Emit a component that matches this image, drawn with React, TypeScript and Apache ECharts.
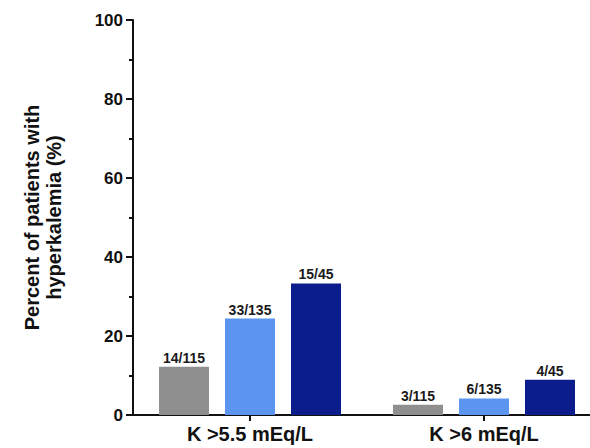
import React, { useEffect, useRef } from "react";
import * as echarts from "echarts";

const categories = ["K >5.5 mEq/L", "K >6 mEq/L"];
const greyValues = [12.2, 2.6];
const lightBlueValues = [24.4, 4.2];
const darkBlueValues = [33.3, 8.9];
const greyLabels = ["14/115", "3/115"];
const lightBlueLabels = ["33/135", "6/135"];
const darkBlueLabels = ["15/45", "4/45"];
const yTitle = "Percent of patients with\nhyperkalemia (%)";

const FONT = "Liberation Sans, Arial, Helvetica, sans-serif";

export default function App() {
  const ref = useRef<HTMLDivElement>(null);
  useEffect(() => {
    document.body.style.margin = "0";
    const chart = echarts.init(ref.current!, null, { renderer: "svg" });
    const mkSeries = (name: string, values: number[], labels: string[], color: string) => ({
      name,
      type: "bar",
      data: values,
      barWidth: 50,
      barGap: "32%",
      itemStyle: { color },
      label: {
        show: true,
        position: "top",
        distance: 2,
        formatter: (p: any) => labels[p.dataIndex],
        fontFamily: FONT,
        fontWeight: "bold",
        fontSize: 14,
        color: "#1a1a1a",
      },
    });
    chart.setOption({
      animation: false,
      backgroundColor: "#ffffff",
      grid: {
        left: 133,
        top: 20,
        width: 468,
        bottom: 33,
        containLabel: false,
        outerBoundsMode: "none",
      },
      xAxis: {
        type: "category",
        data: categories,
        axisLine: { lineStyle: { color: "#111", width: 2 } },
        axisTick: { show: true, alignWithLabel: true, length: 6, lineStyle: { color: "#111", width: 2 } },
        axisLabel: {
          fontFamily: FONT,
          fontWeight: "bold",
          fontSize: 20,
          color: "#111",
          margin: 9,
        },
      },
      yAxis: {
        type: "value",
        min: 0,
        max: 100,
        interval: 20,
        name: yTitle,
        nameLocation: "middle",
        nameRotate: 90,
        nameGap: 68,
        nameTextStyle: {
          fontFamily: FONT,
          fontWeight: "bold",
          fontSize: 20,
          lineHeight: 22,
          color: "#111",
          align: "center",
        },
        axisLine: { show: true, lineStyle: { color: "#111", width: 2 } },
        axisTick: { show: true, length: 7, lineStyle: { color: "#111", width: 2 } },
        minorTick: { show: true, splitNumber: 2, length: 4, lineStyle: { color: "#111", width: 2 } },
        splitLine: { show: false },
        axisLabel: {
          fontFamily: FONT,
          fontWeight: "bold",
          fontSize: 17,
          color: "#111",
          margin: 10,
        },
      },
      series: [
        mkSeries("grey", greyValues, greyLabels, "#8f8f8f"),
        mkSeries("light", lightBlueValues, lightBlueLabels, "#5b95f0"),
        mkSeries("dark", darkBlueValues, darkBlueLabels, "#0b1c8c"),
      ],
    });
    return () => chart.dispose();
  }, []);
  return <div ref={ref} style={{ width: 590, height: 448 }} />;
}
